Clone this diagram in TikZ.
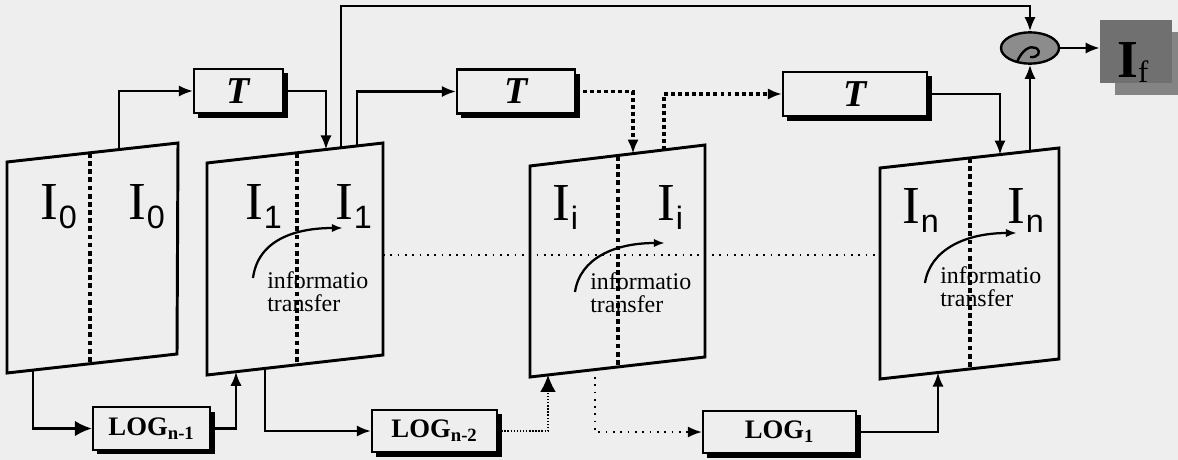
\documentclass[tikz,border=0pt]{standalone}
\usepackage{fontspec}
\setmainfont{Liberation Serif}
\setsansfont{Liberation Sans}
\usetikzlibrary{arrows.meta,shapes.geometric,shadows}
\definecolor{paper}{RGB}{238,238,238}
\definecolor{knotgray}{RGB}{140,140,140}
\definecolor{outgray}{RGB}{112,112,112}
\definecolor{outshade}{RGB}{132,132,132}
\newcommand{\Isub}[1]{I\kern0.5pt\raisebox{-7pt}{\fontsize{23}{23}\selectfont\sffamily #1}}

\begin{document}
\begin{tikzpicture}[x=0.025cm, y=-0.025cm,
  panel/.style={line width=2.1pt},
  split/.style={line width=2.6pt, dash pattern=on 3.4pt off 2.4pt},
  box/.style={draw, fill=paper, line width=1.5pt, inner sep=0pt, minimum height=1.1cm,
              drop shadow={shadow xshift=3.2pt, shadow yshift=-3.2pt, fill=black, opacity=1}},
  tbox/.style={box, font=\fontsize{27}{27}\selectfont\bfseries\itshape},
  logbox/.style={box, minimum height=1.07cm, font=\fontsize{19}{19}\selectfont\bfseries},
  big/.style={font=\fontsize{38}{38}\selectfont, inner sep=0pt, anchor=base west},
  note/.style={font=\fontsize{17}{16.5}\selectfont, inner sep=0pt, align=left, anchor=north west},
  conn/.style={line width=1.7pt, -{Latex[length=10pt,width=8pt]}},
  bigconn/.style={line width=1.7pt, -{Latex[length=12pt,width=11pt]}},
  thickdots/.style={line width=2.2pt, dash pattern=on 2.8pt off 2.2pt},
  finedots/.style={line width=1.1pt, dash pattern=on 1pt off 1.2pt},
  sparsedots/.style={line width=1.3pt, dash pattern=on 1.2pt off 4pt},
  swing/.style={line width=1.6pt, -{Latex[length=8pt,width=6pt]}}
]
  \path[use as bounding box, fill=paper] (0,0) rectangle (1178,460);

  % the four image panels
  \draw[panel] (7,162) -- (178,143) -- (177,354) -- (7,373) -- cycle;
  \draw[panel] (207,163) -- (383,143) -- (383,355) -- (207,375) -- cycle;
  \draw[panel] (530,166) -- (705,145) -- (705,357) -- (530,377) -- cycle;
  \draw[panel] (880,168) -- (1059,148) -- (1059,359) -- (880,379) -- cycle;
  \draw[split] (90,153) -- (90,364);
  \draw[split] (297,153) -- (297,365);
  \draw[split] (618,156) -- (618,367);
  \draw[split] (970,158) -- (970,369);

  \node[big] (a0) at (40,219) {\Isub{0}};
  \node[big] (b0) at (128,219) {\Isub{0}};
  \node[big] (a1) at (245,219) {\Isub{1}};
  \node[big] (b1) at (335,219) {\Isub{1}};
  \node[big] (ai) at (552,220) {\Isub{i}};
  \node[big] (bi) at (657,220) {\Isub{i}};
  \node[big] (an) at (902,223) {\Isub{n}};
  \node[big] (bn) at (1007,223) {\Isub{n}};

  \node[note] (info1) at (267,271) {informatio\\transfer};
  \node[note] (infoi) at (590,272) {informatio\\transfer};
  \node[note] (infon) at (940,266) {informatio\\transfer};
  \draw[swing] (253,278) .. controls (258,240) and (295,228) .. (343,228);
  \draw[swing] (575,292) .. controls (580,258) and (615,243) .. (665,243);
  \draw[swing] (925,283) .. controls (930,250) and (965,233) .. (1017,233);

  \coordinate (midl) at (383,255);
  \coordinate (midr) at (880,255);
  \draw[sparsedots] (midl) -- (midr);

  % transform and log boxes
  \node[tbox, minimum width=2.225cm] (t1) at (238.5,91) {T\hspace{21pt}};
  \node[tbox, minimum width=2.95cm] (t2) at (516,91.5) {T\hspace{23pt}};
  \node[tbox, minimum width=3.6cm] (t3) at (855,94) {T\hspace{26pt}};
  \node[logbox, minimum width=2.93cm] (lognm1) at (151.5,428.5) {LOG\textsubscript{n-1}};
  \node[logbox, minimum width=3.13cm] (lognm2) at (434.5,431) {LOG\textsubscript{n-2}};
  \node[logbox, minimum width=3.83cm] (logone) at (779.5,432) {LOG\textsubscript{1}\hspace{18pt}};

  % fusion and result
  \node[ellipse, draw, fill=knotgray, line width=1.7pt, minimum width=1.45cm,
        minimum height=0.78cm, inner sep=0pt] (knot) at (1030,48) {};
  \draw[line width=1.7pt] (1017,62) .. controls (1022,50) and (1030,45) .. (1036,48)
        .. controls (1042,52) and (1038,58) .. (1030,57);
  \node[fill=outgray, minimum width=1.8cm, minimum height=1.58cm, inner sep=0pt,
        drop shadow={shadow xshift=10.5pt, shadow yshift=-8.5pt, fill=outshade, opacity=1}]
        (outimg) at (1136,51.5) {};
  \node[big] (iflab) at (1117,77) {\textbf{I}\raisebox{-4pt}{\fontsize{22}{22}\selectfont f}};

  \coordinate (p0up) at (119,149.6);
  \coordinate (p1in) at (326,149.5);
  \coordinate (p1bus) at (341,147.8);
  \coordinate (p1up) at (357,146);
  \coordinate (piin) at (633,153.6);
  \coordinate (piup) at (664,150);
  \coordinate (pnin) at (1000,154.6);
  \coordinate (pnup) at (1030,151.2);
  \coordinate (bus) at (341,6);
  \coordinate (p0dn) at (33,370);
  \coordinate (p1lo) at (236,371.7);
  \coordinate (p1dn) at (265,368.4);
  \coordinate (pilo) at (548,374.9);
  \coordinate (pidn) at (595,369.6);
  \coordinate (pnlo) at (938,372.5);

  \draw[conn] (p0up) |- (t1);
  \draw[conn] (t1) -| (p1in);
  \draw[conn] (p1bus) -- (bus) -| (knot);
  \draw[conn] (p1up) |- (t2);
  \draw[conn, thickdots] (t2) -| (piin);
  \draw[conn, thickdots] (piup) |- (t3);
  \draw[conn] (t3) -| (pnin);
  \draw[conn] (pnup) -- (knot);
  \draw[conn] (knot) -- (knot -| outimg.west);

  \draw[bigconn] (p0dn) |- (lognm1);
  \draw[conn] (lognm1) -| (p1lo);
  \draw[conn] (p1dn) |- (lognm2);
  \draw[bigconn, finedots] (lognm2) -| (pilo);
  \draw[conn, sparsedots] (pidn) |- (logone);
  \draw[conn] (logone) -| (pnlo);
\end{tikzpicture}
\end{document}
